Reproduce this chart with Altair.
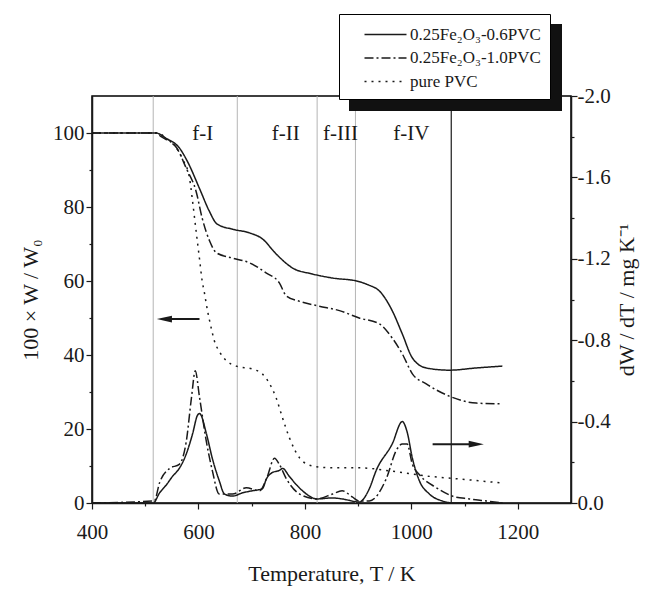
import altair as alt
import pandas as pd

FONT = "Liberation Serif"
INK = "#1a1a1a"

series_names = ["0.25Fe\u2082O\u2083-0.6PVC", "0.25Fe\u2082O\u2083-1.0PVC", "pure PVC"]

# ---- TG curves (100 x W / W0) ----
tg_T_06 = [400, 520, 540, 564, 579, 602, 620, 635, 664, 696, 720, 746, 777, 814, 852, 897, 920, 940, 964, 983, 1002, 1028, 1071, 1122, 1171]
tg_W_06 = [100, 100, 98.5, 96, 92.4, 85, 79, 75.4, 74, 73, 71.4, 67.3, 63.5, 61.9, 60.8, 60, 58.9, 57.3, 52, 45.7, 39.2, 36.5, 35.9, 36.5, 37]

tg_T_10 = [400, 520, 530, 559, 577, 596, 607, 621, 634, 664, 696, 727, 752, 765, 790, 827, 865, 902, 940, 964, 983, 1002, 1028, 1071, 1122, 1171]
tg_W_10 = [100, 100, 99, 96, 90.5, 84, 77, 70.8, 67.6, 66.2, 64.9, 62.2, 59.5, 56, 54.5, 53.2, 52, 50, 48.4, 44.6, 40.3, 34.9, 32.2, 28.9, 27, 26.8]

tg_T_pvc = [400, 520, 540, 570, 583, 589, 596, 602, 607, 611, 617, 624, 630, 639, 653, 671, 701, 720, 733, 746, 758, 771, 790, 814, 852, 902, 964, 1028, 1090, 1171]
tg_W_pvc = [100, 100, 98.6, 93, 88, 81.5, 73, 66, 60, 57, 52, 47.3, 43.8, 41, 38.4, 37, 36.2, 34.9, 32.4, 28.4, 23, 17.6, 12.2, 10, 9.5, 9.5, 8.6, 7.3, 6.5, 5.4]

# ---- DTG curves (dW/dT, mg K^-1) ----
dtg_T_06 = [400, 515, 527, 540, 551, 564, 577, 589, 598, 602, 615, 626, 639, 649, 664, 683, 701, 720, 728, 739, 752, 758, 771, 784, 803, 822, 852, 870, 902, 921, 934, 964, 983, 992, 1002, 1015, 1034, 1058, 1080, 1171]
dtg_D_06 = [0, 0, -0.05, -0.09, -0.13, -0.17, -0.24, -0.34, -0.43, -0.44, -0.34, -0.22, -0.11, -0.044, -0.034, -0.05, -0.06, -0.07, -0.12, -0.15, -0.16, -0.17, -0.13, -0.09, -0.044, -0.02, -0.025, -0.02, -0.005, -0.07, -0.16, -0.29, -0.40, -0.35, -0.22, -0.11, -0.044, -0.01, 0, 0]

dtg_T_10 = [400, 517, 527, 546, 564, 577, 587, 594, 602, 615, 626, 639, 664, 690, 715, 728, 743, 752, 765, 790, 822, 852, 870, 889, 902, 921, 953, 972, 983, 992, 1002, 1015, 1047, 1077, 1109, 1141, 1171]
dtg_D_10 = [0, -0.01, -0.1, -0.17, -0.19, -0.3, -0.52, -0.65, -0.52, -0.3, -0.16, -0.044, -0.044, -0.075, -0.06, -0.12, -0.22, -0.19, -0.12, -0.044, -0.02, -0.044, -0.06, -0.03, -0.01, -0.01, -0.12, -0.26, -0.29, -0.29, -0.19, -0.14, -0.075, -0.034, -0.02, -0.01, 0]

# ---- annotations ----
zone_T = [515, 673, 823, 895]
cutoff_T = [1075]
zone_labels = ["f-I", "f-II", "f-III", "f-IV"]
zone_label_T = [608, 764, 867, 1000]
zone_label_W = [99.7, 99.7, 99.7, 99.7]
arrow_left = {"T0": 536, "T1": 602, "W": 49.7}
arrow_right = {"T0": 1040, "T1": 1122, "W": 15.9}

tg = pd.concat([
    pd.DataFrame({"T": tg_T_06, "W": tg_W_06, "s": series_names[0]}),
    pd.DataFrame({"T": tg_T_10, "W": tg_W_10, "s": series_names[1]}),
    pd.DataFrame({"T": tg_T_pvc, "W": tg_W_pvc, "s": series_names[2]}),
])
dtg = pd.concat([
    pd.DataFrame({"T": dtg_T_06, "D": dtg_D_06, "s": series_names[0]}),
    pd.DataFrame({"T": dtg_T_10, "D": dtg_D_10, "s": series_names[1]}),
])

xscale = alt.Scale(domain=[400, 1300], nice=False)
xaxis = alt.Axis(title="Temperature, T / K", values=list(range(400, 1300, 100)),
                 labelExpr="datum.value % 200 === 0 ? datum.label : ''",
                 tickSize={"condition": {"test": "datum.value % 200 === 0", "value": 6}, "value": 3},
                 grid=False, format="d", labelPadding=12, titlePadding=21, labelFlush=False)
yscale = alt.Scale(domain=[0, 110], nice=False)
yaxis = alt.Axis(title="100 \u00d7 W / W\u2080", values=list(range(0, 110, 10)),
                 labelExpr="datum.value % 20 === 0 ? datum.label : ''",
                 tickSize={"condition": {"test": "datum.value % 20 === 0", "value": 6}, "value": 3},
                 grid=False, titlePadding=10, labelPadding=2, labelFlush=False)
dscale = alt.Scale(domain=[-2.0, 0.0], reverse=True, nice=False)
daxis = alt.Axis(title="dW / dT   /   mg K\u207b\u00b9", orient="right",
                 values=[round(-0.2 * i, 1) for i in range(0, 11)],
                 labelExpr="round(datum.value * 10) % 4 === 0 ? (datum.value < 0 ? '-' : '') + format(abs(datum.value), '.1f') : ''",
                 tickSize={"condition": {"test": "round(datum.value * 10) % 4 === 0", "value": 6}, "value": 3},
                 grid=False, titleAngle=270, titlePadding=28, labelPadding=0, labelFlush=False)

dash = alt.StrokeDash("s:N", sort=series_names,
                      scale=alt.Scale(domain=series_names, range=[[1, 0], [9, 3, 2, 3], [2, 5]]),
                      legend=alt.Legend(title=None, orient="none", legendX=247, legendY=-82,
                                        fillColor="white", strokeColor="black", padding=9,
                                        symbolType="M-2,0L2,0", symbolSize=441, symbolOffset=26,
                                        symbolStrokeWidth=1.5, symbolStrokeColor=INK,
                                        labelFontSize=17, labelFont=FONT,
                                        labelColor=INK, rowPadding=3.5, labelOffset=13))

X = alt.X("T:Q", scale=xscale, axis=xaxis)
Y = alt.Y("W:Q", scale=yscale, axis=yaxis)

zones = alt.Chart(pd.DataFrame({"T": zone_T})).mark_rule(color="#b5b5b5", strokeWidth=1).encode(x=X)
cut = alt.Chart(pd.DataFrame({"T": cutoff_T})).mark_rule(color=INK, strokeWidth=1.2).encode(x=X)

tg_lines = alt.Chart(tg).mark_line(color=INK, strokeWidth=1.5, interpolate="monotone").encode(
    x=X, y=Y, strokeDash=dash, detail="s:N", order=alt.Order("T:Q"))

labels = alt.Chart(pd.DataFrame({"T": zone_label_T, "W": zone_label_W, "t": zone_labels})).mark_text(
    font=FONT, fontSize=21, color=INK).encode(x=X, y=Y, text="t:N")

arrows = pd.DataFrame({"T0": [arrow_left["T0"], arrow_right["T0"]],
                       "T1": [arrow_left["T1"], arrow_right["T1"]],
                       "W": [arrow_left["W"], arrow_right["W"]]})
shafts = alt.Chart(arrows).mark_rule(color=INK, strokeWidth=2).encode(
    x=alt.X("T0:Q", scale=xscale, axis=xaxis), x2="T1:Q", y=Y)
head_l = alt.Chart(pd.DataFrame({"T": [arrow_left["T0"]], "W": [arrow_left["W"]]})).mark_point(
    shape="M-1,0L1,-0.45L1,0.45Z", filled=True, color=INK, opacity=1, size=230).encode(x=X, y=Y)
head_r = alt.Chart(pd.DataFrame({"T": [arrow_right["T1"]], "W": [arrow_right["W"]]})).mark_point(
    shape="M1,0L-1,-0.45L-1,0.45Z", filled=True, color=INK, opacity=1, size=230).encode(x=X, y=Y)

shadow = alt.Chart(pd.DataFrame({"k": [0]})).mark_rect(color="#111111").encode(
    x=alt.value(257), x2=alt.value(470), y=alt.value(-72), y2=alt.value(15))

dtg_lines = alt.Chart(dtg).mark_line(color=INK, strokeWidth=1.5, interpolate="monotone").encode(
    x=X, y=alt.Y("D:Q", scale=dscale, axis=daxis), strokeDash=dash, detail="s:N", order=alt.Order("T:Q"))

left = alt.layer(zones, cut, tg_lines, labels, shafts, head_l, head_r, shadow)
chart = alt.layer(left, dtg_lines).resolve_scale(y="independent").properties(
    width=479, height=407, padding={"left": 11, "top": 5, "right": 2, "bottom": 2}
).configure_view(stroke="black", strokeWidth=1.5).configure_axis(
    labelFont=FONT, titleFont=FONT, labelFontSize=21, titleFontSize=22,
    labelColor=INK, titleColor=INK, titleFontWeight="normal",
    domainColor=INK, tickColor=INK, domainWidth=1.5, tickWidth=1.2
)

chart.save("out.html", embed_options={"renderer": "svg", "actions": False})
